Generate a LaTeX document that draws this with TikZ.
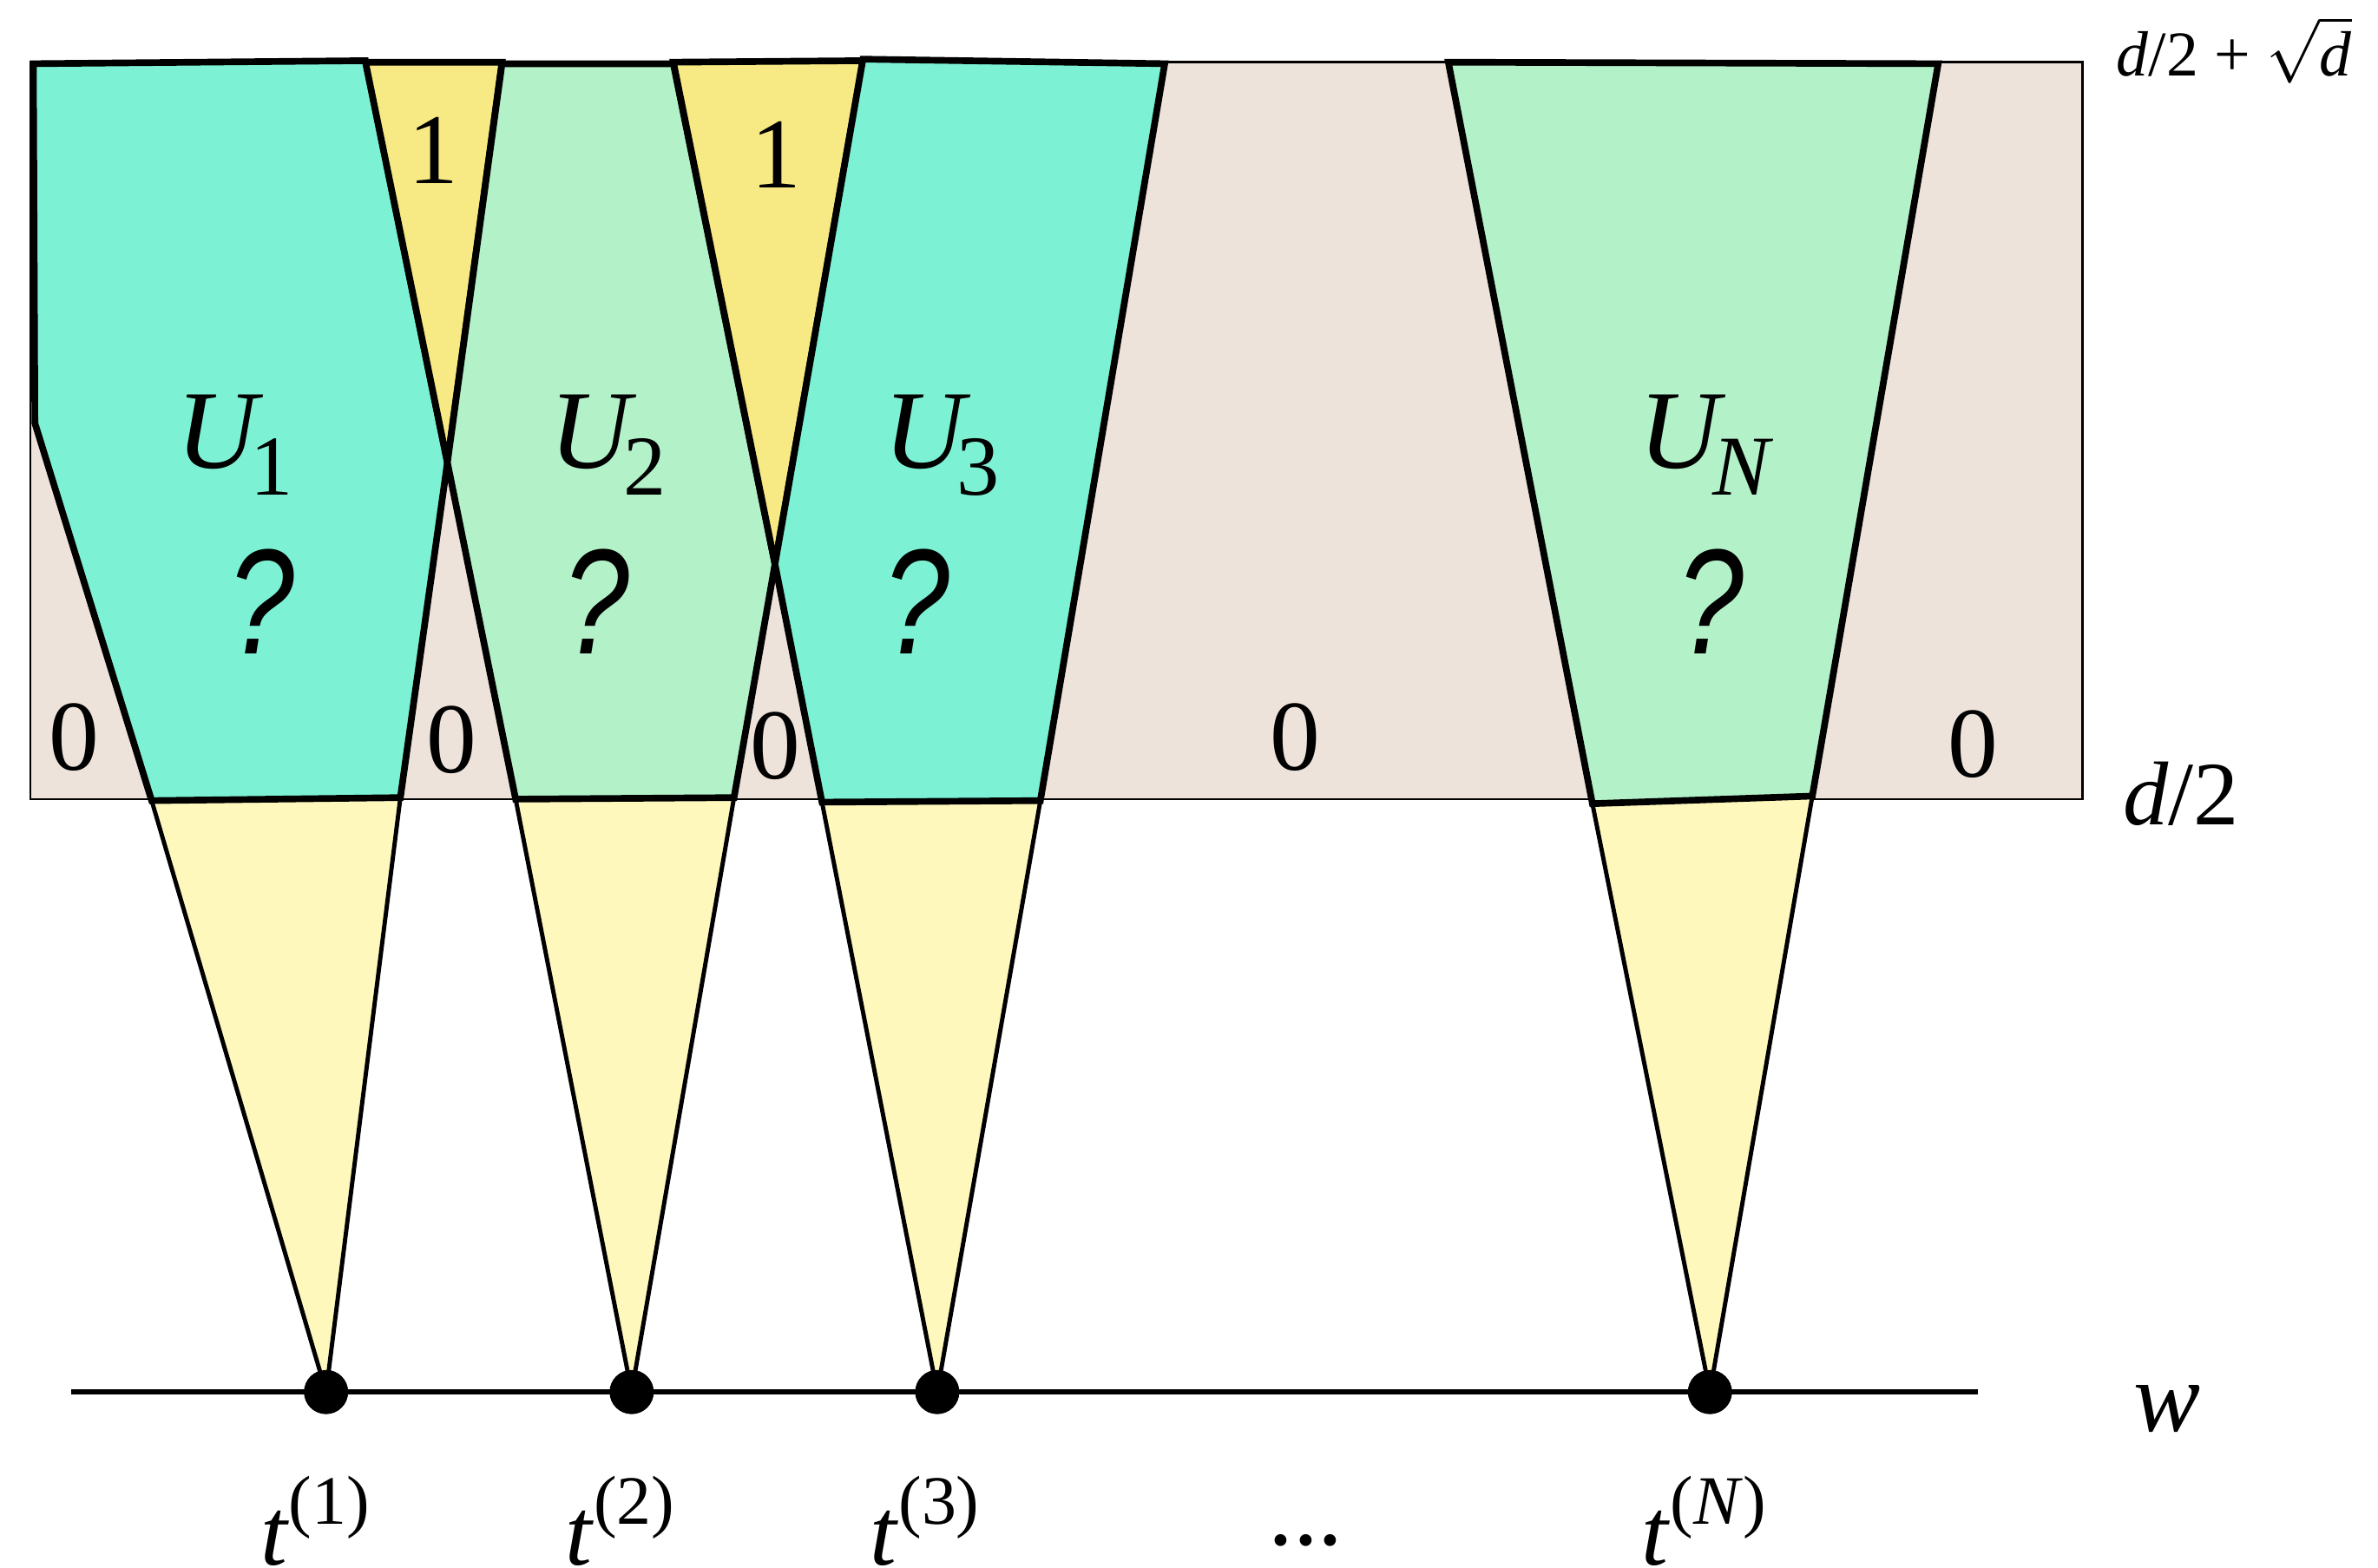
\documentclass[tikz,border=0pt]{standalone}
\usepackage{graphicx}
\usepackage{fontspec}
\setmainfont{Liberation Serif}
\newfontfamily\qmfont{Liberation Sans}
\usetikzlibrary{positioning}
\definecolor{zbeige}{RGB}{237,227,218}
\definecolor{uteal}{RGB}{125,241,212}
\definecolor{ugreen}{RGB}{179,241,200}
\definecolor{uyellow}{RGB}{247,233,131}
\definecolor{cyellow}{RGB}{255,248,189}
\newcommand{\usub}[1]{\hspace{-0.12em}\raisebox{-0.24em}{\fontsize{16}{17}\selectfont #1}}
\newcommand{\tsup}[1]{\raisebox{0.42em}{\fontsize{13}{14}\selectfont (#1)}}
\newcommand{\qmark}{\scalebox{1}[1.25]{?}}
\tikzset{
  band/.style={draw, line width=0.45pt, fill=zbeige},
  region/.style={draw, line width=1.25pt, line join=miter},
  cone/.style={draw, line width=0.8pt, fill=cyellow},
  dot/.style={circle, fill=black, inner sep=0pt, minimum size=2.9mm},
  lbl/.style={font=\fontsize{18.8}{20}\selectfont, inner sep=0pt},
  ulbl/.style={font=\fontsize{21}{24}\selectfont, inner sep=0pt, anchor=base west},
  qlbl/.style={font=\fontsize{22.5}{26}\selectfont\qmfont\itshape, inner sep=0pt, anchor=base},
  tlbl/.style={font=\fontsize{18}{20}\selectfont, inner sep=0pt, anchor=base west},
}
\begin{document}
\begin{tikzpicture}[x=0.1mm,y=-0.1mm]
\useasboundingbox (0,0) rectangle (1568,1034);
\draw[band] (20,41) rectangle (1373,527);
\node[dot] (t1) at (215,918) {};
\node[dot] (t2) at (416.5,918) {};
\node[dot] (t3) at (618,918) {};
\node[dot] (tN) at (1127.5,918) {};
\draw[cone] (100,528) -- (t1.center) -- (264,526);
\draw[cone] (340,527) -- (t2.center) -- (484,526);
\draw[cone] (542,529) -- (t3.center) -- (686,528);
\draw[cone] (1050,530) -- (tN.center) -- (1195,525);
\draw[region, fill=uteal] (22,42) -- (241,40) -- (295,305) -- (264,526) -- (100,528) -- (23,279) -- cycle;
\draw[region, fill=uyellow] (241,41) -- (331,41) -- (295,305) -- cycle;
\draw[region, fill=ugreen] (331,42) -- (444,42) -- (511,372) -- (484,526) -- (340,527) -- (295,305) -- cycle;
\draw[region, fill=uyellow] (444,41) -- (569,40) -- (511,372) -- cycle;
\draw[region, fill=uteal] (569,39) -- (768,42) -- (686,528) -- (542,529) -- (511,372) -- cycle;
\draw[region, fill=ugreen] (955,41) -- (1278,42) -- (1195,525) -- (1050,530) -- cycle;
\coordinate (w0) at (47,918);
\coordinate (w1) at (1304,918);
\draw[line width=1pt] (w0) -- (w1);
\node[dot] at (t1) {};
\node[dot] at (t2) {};
\node[dot] at (t3) {};
\node[dot] at (tN) {};
\node[lbl] (z1) at (49,486) {0};
\node[lbl] (z2) at (298,488) {0};
\node[lbl] (z3) at (511,492) {0};
\node[lbl] (z4) at (854,486) {0};
\node[lbl] (z5) at (1301,491) {0};
\node[lbl] (o1) at (286,99) {1};
\node[lbl] (o2) at (512,102) {1};
\node[ulbl] (u1) at (116,309) {\textit{U}\usub{1}};
\node[ulbl] (u2) at (362,309) {\textit{U}\usub{2}};
\node[ulbl] (u3) at (582,309) {\textit{U}\usub{3}};
\node[ulbl] (uN) at (1080,309) {\textit{U}\usub{\textit{N}}};
\node[qlbl] (q1) at (172,431) {\qmark};
\node[qlbl] (q2) at (393,431) {\qmark};
\node[qlbl] (q3) at (604,431) {\qmark};
\node[qlbl] (qN) at (1128,431) {\qmark};
\node[font=\fontsize{17}{18}\selectfont, inner sep=0pt, anchor=base] (dlow) at (1438,544) {\textit{d}/2};
\node[font=\fontsize{12}{13}\selectfont, inner sep=0pt, anchor=base] (dtop) at (1473,50) {\textit{d}/2 + $\sqrt{\textit{d}}$};
\node[lbl, anchor=base] (w) at (1429,944) {\textit{w}};
\node[tlbl] (l1) at (171,1032) {\textit{t}\tsup{1}};
\node[tlbl] (l2) at (372,1032) {\textit{t}\tsup{2}};
\node[tlbl] (l3) at (573,1032) {\textit{t}\tsup{3}};
\node[tlbl] (lN) at (1082,1032) {\textit{t}\tsup{\textit{N}}};
\node[lbl, anchor=base] (dots) at (861,1019) {...};
\end{tikzpicture}
\end{document}
